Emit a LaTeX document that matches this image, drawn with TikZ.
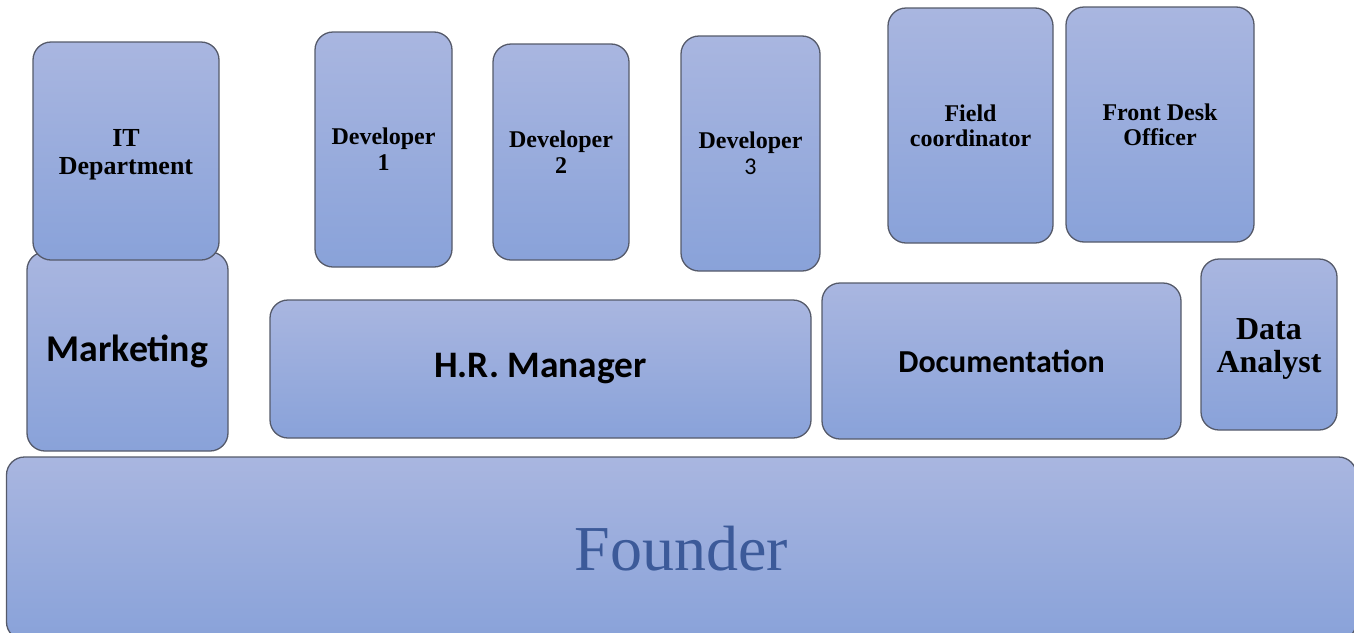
\documentclass[tikz,border=0pt]{standalone}
\usepackage{fontspec}
\setmainfont{Liberation Serif}
\newfontfamily\calibfont{Carlito}
\usetikzlibrary{positioning}
\definecolor{boxTop}{RGB}{169,182,224}
\definecolor{boxBottom}{RGB}{137,162,217}
\definecolor{boxLine}{RGB}{85,90,106}
\definecolor{founderBlue}{RGB}{60,90,153}

\begin{document}
\begin{tikzpicture}[x=0.5pt, y=-0.5pt]
            \tikzset{unit/.style = {draw=boxLine, line width=0.65pt, rounded corners=9pt,
                top color=boxTop, bottom color=boxBottom, inner sep=0pt, outer sep=0pt, align=center}}
            \tikzset{serifname/.style = {font=\fontsize{12}{13}\selectfont\bfseries}}
            \tikzset{sansname/.style = {font=\fontsize{18.7}{20}\selectfont\calibfont\bfseries}}
            \useasboundingbox (0,0) rectangle (1354,632);
            \clip (0,0) rectangle (1354,632);
            % base
            \node[unit, minimum width=675pt, minimum height=91.5pt,
                font=\fontsize{32}{34}\selectfont, text=founderBlue] (founder) at (681.5,548.5) {Founder};
            % middle row
            \node[unit, sansname, minimum width=100.5pt, minimum height=99.5pt,
                font=\fontsize{18.9}{20}\selectfont\calibfont\bfseries] (mkt) at (127.5,351.5) {Marketing};
            \node[unit, sansname, minimum width=270.5pt, minimum height=69pt] (hr) at (540.5,369) {H.R. Manager};
            \node[unit, sansname, minimum width=179.5pt, minimum height=78pt,
                font=\fontsize{16}{18}\selectfont\calibfont\bfseries] (doc) at (1001.5,361) {Documentation};
            \node[unit, minimum width=68pt, minimum height=85.5pt,
                label={[align=center, yshift=-2pt, font=\fontsize{16}{16.5}\selectfont\bfseries]center:Data\\Analyst}] (data) at (1269,344.5) {};
            % top row
            \node[unit, minimum width=93pt, minimum height=109pt,
                label={[align=center, yshift=-2pt, font=\fontsize{13}{14}\selectfont\bfseries]center:IT\\Department}] (it) at (126,151) {};
            \node[unit, serifname, minimum width=68.5pt, minimum height=117.5pt] (dev1) at (383.5,149.5) {Developer\\1};
            \node[unit, serifname, minimum width=68pt, minimum height=108pt] (dev2) at (561,152) {Developer\\2};
            \node[unit, serifname, minimum width=69.5pt, minimum height=117.5pt] (dev3) at (750.5,153.5) {Developer\\{\calibfont\mdseries 3}};
            \node[unit, serifname, minimum width=82.5pt, minimum height=117.5pt,
                font=\fontsize{12}{12.5}\selectfont\bfseries] (field) at (970.5,125.5) {Field\\coordinator};
            \node[unit, serifname, minimum width=94pt, minimum height=117.5pt,
                font=\fontsize{12}{12.5}\selectfont\bfseries] (desk) at (1160,124.5) {Front Desk\\Officer};
\end{tikzpicture}
\end{document}
